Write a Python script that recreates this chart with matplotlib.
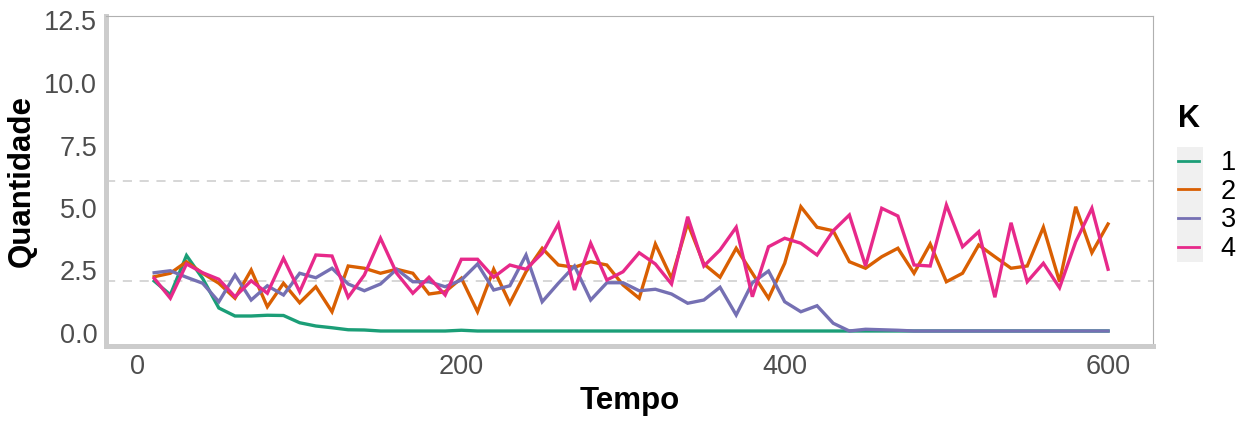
import matplotlib
matplotlib.use("Agg")
import matplotlib.pyplot as plt
from matplotlib.patches import Rectangle
from matplotlib.transforms import ScaledTranslation

plt.rcParams['font.family'] = ['Liberation Sans', 'DejaVu Sans']

tempo = list(range(10, 601, 10))

k1 = [2.0, 1.45, 3.02, 2.1, 0.92, 0.6, 0.6, 0.63, 0.62, 0.33,
      0.2, 0.13, 0.05, 0.04, 0.0, 0.0, 0.0, 0.0, 0.0, 0.03] + [0.0] * 40

k2 = [2.17, 2.31, 2.77, 2.31, 1.91, 1.31, 2.44, 0.97, 1.91, 1.13,
      1.77, 0.77, 2.6, 2.51, 2.31, 2.47, 2.31, 1.48, 1.57, 2.11,
      0.77, 2.47, 1.11, 2.37, 3.31, 2.64, 2.55, 2.77, 2.64, 1.84,
      1.31, 3.48, 2.11, 4.31, 2.68, 2.15, 3.31, 2.31, 1.31, 2.71,
      4.97, 4.15, 4.01, 2.77, 2.51, 2.97, 3.31, 2.31, 3.48, 1.97,
      2.31, 3.44, 2.97, 2.51, 2.6, 4.15, 1.97, 4.97, 3.13, 4.28]

k3 = [2.33, 2.41, 2.15, 1.91, 1.17, 2.24, 1.24, 1.81, 1.44, 2.31,
      2.13, 2.51, 1.88, 1.61, 1.88, 2.47, 1.97, 1.97, 1.77, 2.04,
      2.68, 1.64, 1.81, 3.04, 1.17, 1.91, 2.6, 1.24, 1.93, 1.93,
      1.61, 1.67, 1.48, 1.11, 1.24, 1.75, 0.64, 1.93, 2.4, 1.17,
      0.77, 1.01, 0.31, 0.0, 0.07, 0.05, 0.03, 0.0, 0.0, 0.0,
      0.0, 0.0, 0.0, 0.0, 0.0, 0.0, 0.0, 0.0, 0.0, 0.0]

k4 = [2.11, 1.31, 2.68, 2.33, 2.07, 1.37, 2.01, 1.51, 2.91, 1.57,
      3.04, 3.0, 1.35, 2.24, 3.71, 2.31, 1.51, 2.15, 1.44, 2.87,
      2.87, 2.15, 2.64, 2.47, 3.11, 4.28, 1.64, 3.51, 2.04, 2.37,
      3.13, 2.68, 1.88, 4.57, 2.6, 3.24, 4.15, 1.37, 3.37, 3.71,
      3.51, 3.04, 4.01, 4.64, 2.6, 4.91, 4.6, 2.64, 2.6, 5.04,
      3.37, 3.97, 1.35, 4.33, 1.97, 2.71, 1.73, 3.57, 4.91, 2.47]

series = [k1, k2, k3, k4]
labels = ['1', '2', '3', '4']
colors = ['#1B9E77', '#D95F02', '#7570B3', '#E7298A']
ref_lines = [2, 6]
yticks = [0.0, 2.5, 5.0, 7.5, 10.0, 12.5]
xticks = [0, 200, 400, 600]

W, H = 1247, 421
fig = plt.figure(figsize=(W / 100, H / 100), dpi=100)
L, R, B, T = 105.5, 1153, 346, 16
ax = fig.add_axes([L / W, 1 - B / H, (R - L) / W, (B - T) / H])

for yv in ref_lines:
    ax.axhline(yv, color='#cccccc', lw=1.1, ls=(0, (6, 5)), zorder=1)

for vals, lab, c in zip(series, labels, colors):
    ax.plot(tempo, vals, color=c, lw=2.4, label=lab, zorder=3,
            solid_joinstyle='miter')

ax.set_xlim(-20.1, 627.8)
ax.set_ylim(-0.6, 12.6)
ax.set_xticks(xticks)
ax.set_xticklabels([str(v) for v in xticks])
ax.set_yticks(yticks)
ax.set_yticklabels([f"{v:.1f}" for v in yticks])
ax.tick_params(length=0, labelsize=19.5, labelcolor='#4d4d4d')
ax.tick_params(axis='y', pad=6)
ax.tick_params(axis='x', pad=6)
shift = ScaledTranslation(0, -2 / 100, fig.dpi_scale_trans)
for lbl in ax.get_yticklabels():
    lbl.set_transform(lbl.get_transform() + shift)

for s in ['left', 'bottom']:
    ax.spines[s].set_color('#cccccc')
    ax.spines[s].set_linewidth(3.6)
for s in ['top', 'right']:
    ax.spines[s].set_color('#b0b0b0')
    ax.spines[s].set_linewidth(0.8)

ax.set_xlabel('Tempo', fontsize=22.5, fontweight='bold', color='black')
ax.set_ylabel('Quantidade', fontsize=22.5, fontweight='bold', color='black')
ax.xaxis.set_label_coords(0.5, -0.122)
ax.yaxis.set_label_coords(-0.066, 0.5)

# legend key background
fig.patches.append(Rectangle((1177 / W, 1 - 262 / H), 26 / W, 115 / H,
                             transform=fig.transFigure, facecolor='#f0f0f0',
                             edgecolor='none', zorder=0))
fig.text(1178 / W, 1 - 119 / H, 'K', fontsize=22, fontweight='bold',
         ha='left', va='center')

leg = fig.legend(loc='upper left', bbox_to_anchor=(1178 / W, 1 - 150 / H),
                 frameon=False, fontsize=19.5,
                 handlelength=0.78, handletextpad=0.8, labelspacing=0.1,
                 borderpad=0, borderaxespad=0)
for h in leg.get_lines():
    h.set_linewidth(2.0)

fig.savefig('out.png', dpi=100)
